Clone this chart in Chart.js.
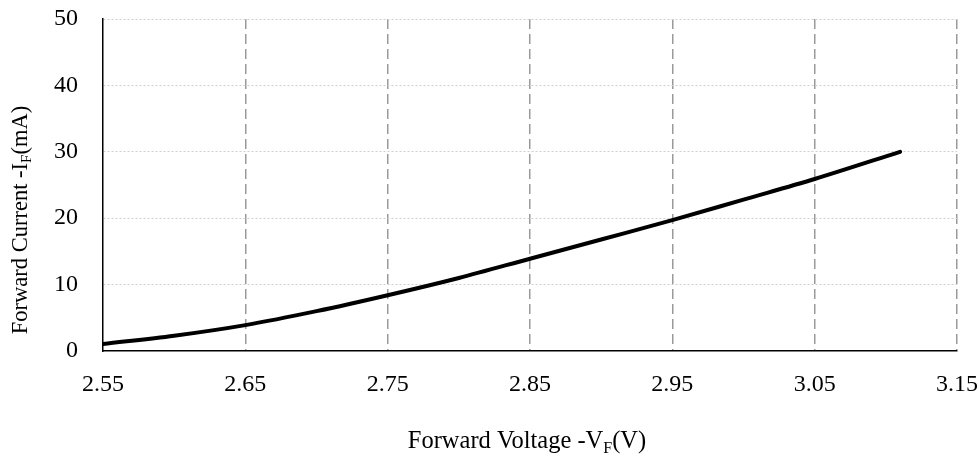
<!DOCTYPE html>
<html>
<head>
<meta charset="utf-8">
<script src="https://cdn.jsdelivr.net/npm/chart.js@4"></script>
<style>
  html, body { margin: 0; padding: 0; background: #fff; }
  #wrap { width: 979px; height: 466px; position: relative; }
</style>
</head>
<body>
<div id="wrap"><canvas id="ivChart"></canvas></div>
<script>
// Forward voltage (V) vs forward current (mA)
const voltage = [2.55, 2.60, 2.65, 2.70, 2.75, 2.80, 2.85, 2.90, 2.95, 3.00, 3.05, 3.11];
const current = [1.05, 2.3, 3.9, 6.0, 8.4, 11.0, 13.9, 16.8, 19.7, 22.8, 25.9, 30.0];
const xTicks = [2.55, 2.65, 2.75, 2.85, 2.95, 3.05, 3.15];
const yTicks = [0, 10, 20, 30, 40, 50];

const FONT = '"Liberation Serif", "Times New Roman", serif';

// axis titles with subscript F
function drawSubText(ctx, parts, x, y, size) {
  const sub = Math.round(size * 0.65);
  let total = 0;
  parts.forEach(p => {
    ctx.font = (p[1] ? sub : size) + 'px ' + FONT;
    total += ctx.measureText(p[0]).width;
  });
  let cx = x - total / 2;
  parts.forEach(p => {
    ctx.font = (p[1] ? sub : size) + 'px ' + FONT;
    ctx.fillText(p[0], cx, p[1] ? y + size * 0.27 : y);
    cx += ctx.measureText(p[0]).width;
  });
}

const axisTitles = {
  id: 'axisTitles',
  afterDraw(chart) {
    const {ctx} = chart;
    ctx.save();
    ctx.fillStyle = '#000';
    ctx.textBaseline = 'middle';
    ctx.textAlign = 'left';
    drawSubText(ctx, [['Forward Voltage -V', false], ['F', true], ['(V)', false]], 527, 442, 24.5);
    ctx.translate(21, 220);
    ctx.rotate(-Math.PI / 2);
    drawSubText(ctx, [['Forward Current -I', false], ['F', true], ['(mA)', false]], 0, 0, 22.5);
    ctx.restore();
  }
};

const ctx = document.getElementById('ivChart').getContext('2d');
new Chart(ctx, {
  type: 'line',
  data: {
    datasets: [{
      data: voltage.map((v, i) => ({x: v, y: current[i]})),
      borderColor: '#000',
      borderWidth: 4,
      pointRadius: 0,
      fill: false,
      cubicInterpolationMode: 'monotone',
      borderCapStyle: 'round'
    }]
  },
  options: {
    responsive: true,
    maintainAspectRatio: false,
    animation: false,
    layout: { padding: { top: 19, right: 22, left: 0, bottom: 0 } },
    plugins: { legend: { display: false }, tooltip: { enabled: false } },
    scales: {
      x: {
        type: 'linear',
        min: 2.55,
        max: 3.15,
        afterBuildTicks: s => { s.ticks = xTicks.map(v => ({value: v})); },
        afterFit: s => { s.height = 115; s.paddingLeft = 0; s.paddingRight = 0; },
        ticks: {
          color: '#000',
          font: { family: FONT, size: 24 },
          padding: 19,
          maxRotation: 0,
          callback: v => v.toFixed(2)
        },
        grid: {
          drawTicks: false,
          color: c => c.index === 0 ? 'rgba(0,0,0,0)' : '#9a9a9a',
          lineWidth: 1.5
        },
        border: { color: '#000', width: 1.5, dash: [10, 5] }
      },
      y: {
        min: 0,
        max: 50,
        afterBuildTicks: s => { s.ticks = yTicks.map(v => ({value: v})); },
        afterFit: s => { s.width = 103; s.paddingTop = 0; s.paddingBottom = 0; },
        ticks: {
          color: '#000',
          font: { family: FONT, size: 24 },
          padding: 25
        },
        grid: {
          drawTicks: false,
          color: c => c.index === 0 ? 'rgba(0,0,0,0)' : '#cfcfcf',
          lineWidth: 1
        },
        border: { color: '#000', width: 1.5, dash: [2, 2] }
      }
    }
  },
  plugins: [axisTitles]
});
</script>
</body>
</html>
